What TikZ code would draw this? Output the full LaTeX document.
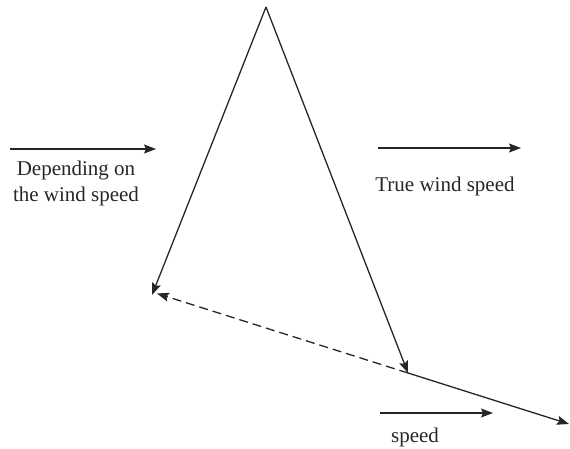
\documentclass[tikz,border=0pt]{standalone}
\usepackage{fontspec}
\setmainfont{Liberation Serif}
\usetikzlibrary{arrows.meta}

\begin{document}
\begin{tikzpicture}[
  x=1pt, y=-1pt,
  vec/.style={-{Stealth[length=12pt, width=9pt, inset=2pt]}, line width=1.3pt, color=black!85},
  dashvec/.style={vec, dashed, dash pattern=on 9pt off 5pt},
  label/.style={font=\fontsize{21}{26}\selectfont, align=center, text=black!85}
]
  \useasboundingbox (0,0) rectangle (570,449);

  % Triangle corners
  \coordinate (apex) at (266,7);
  \coordinate (lefttip) at (152,295);
  \coordinate (mid) at (408,373);
  \coordinate (endpt) at (569,424);

  % Horizontal arrows
  \coordinate (a1) at (10,149);
  \coordinate (b1) at (156,149);
  \coordinate (a2) at (378,148);
  \coordinate (b2) at (521,148);
  \coordinate (a3) at (380,413);
  \coordinate (b3) at (493,413);

  % Labels
  \node[label] (depend) at (76,183) {Depending on\\the wind speed};
  \node[label] (truewind) at (445,186) {True wind speed};
  \node[label] (speed) at (415,437) {speed};

  % Arrows
  \draw[vec] (apex)--(lefttip);
  \draw[vec] (apex)--(mid);
  \draw[dashvec] (mid)--([xshift=5pt, yshift=1.5pt]lefttip);
  \draw[vec] (mid)--(endpt);
  \draw[vec] (a1)--(b1);
  \draw[vec] (a2)--(b2);
  \draw[vec] (a3)--(b3);
\end{tikzpicture}
\end{document}
